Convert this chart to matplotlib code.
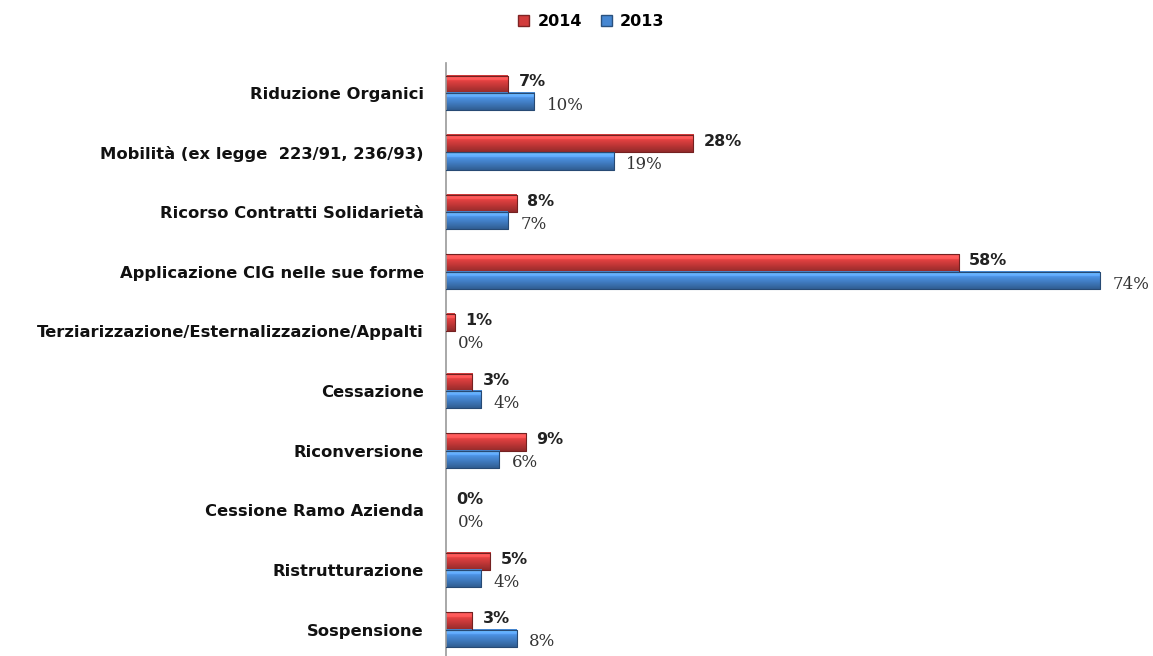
import numpy as np
import matplotlib
matplotlib.use("Agg")
from matplotlib import pyplot as plt
from matplotlib.patches import Patch

categories = [
    "Riduzione Organici",
    "Mobilità (ex legge  223/91, 236/93)",
    "Ricorso Contratti Solidarietà",
    "Applicazione CIG nelle sue forme",
    "Terziarizzazione/Esternalizzazione/Appalti",
    "Cessazione",
    "Riconversione",
    "Cessione Ramo Azienda",
    "Ristrutturazione",
    "Sospensione",
]
values_2014 = [7, 28, 8, 58, 1, 3, 9, 0, 5, 3]
values_2013 = [10, 19, 7, 74, 0, 4, 6, 0, 4, 8]

RED = np.array([210, 60, 60]) / 255
BLUE = np.array([70, 135, 210]) / 255


def shaded_bar(ax, y0, y1, length, base):
    # fake a cylinder look: light band on top, darker towards the bottom
    if length <= 0:
        return
    t = np.linspace(0, 1, 32)
    shade = 1.25 - 0.55 * t
    shade[:4] = np.linspace(0.95, 1.3, 4)
    rgb = np.clip(base[None, :] * shade[:, None] + 0.08 * (shade[:, None] > 1.1), 0, 1)
    img = rgb[:, None, :]
    ax.imshow(img, extent=(0, length, y1, y0), aspect="auto",
              interpolation="bilinear", zorder=2)
    ax.plot([0, length, length, 0], [y0, y0, y1, y1],
            color=base * 0.55, lw=0.8, zorder=3)


fig = plt.figure(figsize=(11.53, 6.56), dpi=100)
ax = fig.add_axes([0.3868, 0.0, 0.6132, 0.904])

h = 0.29
y = np.arange(len(categories))
for i in range(len(categories)):
    shaded_bar(ax, y[i] - h, y[i], values_2014[i], RED)
    shaded_bar(ax, y[i], y[i] + h, values_2013[i], BLUE)
    ax.text(values_2014[i] + 1.2, y[i] - h / 2 - 0.04, f"{values_2014[i]}%",
            fontsize=11.5, fontweight="bold", family="DejaVu Sans",
            color="#222222", va="center", ha="left")
    ax.text(values_2013[i] + 1.4, y[i] + h / 2 + 0.06, f"{values_2013[i]}%",
            fontsize=12, family="DejaVu Serif",
            color="#333333", va="center", ha="left")

ax.set_xlim(0, 80)
ax.set_ylim(9.44, -0.5)
ax.set_yticks(y)
ax.set_yticklabels(categories, fontsize=11.8, fontweight="bold",
                   family="DejaVu Sans", color="#111111")
ax.tick_params(axis="y", length=0, pad=16)
ax.set_xticks([])
for side in ["top", "right", "bottom"]:
    ax.spines[side].set_visible(False)
ax.spines["left"].set_color("#999999")
ax.spines["left"].set_linewidth(1.2)

handles = [Patch(facecolor=RED, edgecolor=RED * 0.6, label="2014"),
           Patch(facecolor=BLUE, edgecolor=BLUE * 0.6, label="2013")]
fig.legend(handles=handles, loc="upper center", ncol=2, frameon=False,
           bbox_to_anchor=(0.513, 1.0), handlelength=0.7, handleheight=0.7,
           handletextpad=0.5, columnspacing=1.2,
           prop={"family": "DejaVu Sans", "weight": "bold", "size": 11.5})

fig.savefig("out.png", dpi=100)
